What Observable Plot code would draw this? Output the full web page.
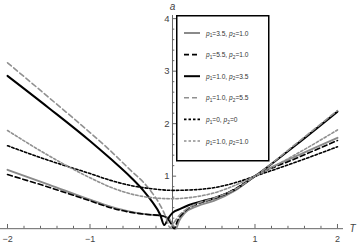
<!DOCTYPE html>
<html><head><meta charset="utf-8">
<script src="https://cdn.jsdelivr.net/npm/d3@7"></script>
<script src="https://cdn.jsdelivr.net/npm/@observablehq/plot@0.6"></script>
<style>
body{margin:0;background:#fff;}
#wrap{position:relative;width:360px;height:243px;overflow:hidden;font-family:"Liberation Sans",Arial,sans-serif;}
#legend{position:absolute;left:176px;top:15px;}
</style></head><body><div id="wrap"><div id="chart"></div><div id="legend"></div></div>
<script>
// ---- data ----
const seriesNames = ["p1=3.5, p2=1.0","p1=5.5, p2=1.0","p1=1.0, p2=3.5","p1=1.0, p2=5.5","p1=0, p2=0","p1=1.0, p2=1.0"];
const legendP1 = ["3.5","5.5","1.0","1.0","0","1.0"];
const legendP2 = ["1.0","1.0","3.5","5.5","0","1.0"];

const s1T = [-2,-1.5,-1,-0.75,-0.5,-0.3,-0.15,-0.05,0.0,0.04,0.08,0.15,0.3,0.5,0.75,1,1.5,2];
const s1A = [1.12,0.84,0.55,0.42,0.32,0.27,0.25,0.2,0.08,0.0,0.15,0.3,0.43,0.53,0.72,1.0,1.38,1.73];

const s2T = [-2,-1.5,-1,-0.75,-0.5,-0.3,-0.15,-0.08,-0.02,0.02,0.06,0.15,0.3,0.5,0.75,1,1.5,2];
const s2A = [1.03,0.79,0.53,0.4,0.31,0.27,0.25,0.22,0.1,0.0,0.15,0.33,0.47,0.57,0.75,1.0,1.34,1.68];

const s3T = [-2,-1.5,-1,-0.75,-0.5,-0.35,-0.25,-0.15,-0.1,-0.05,0,0.1,0.2,0.35,0.5,0.75,1,1.5,2];
const s3A = [2.91,2.3,1.67,1.33,0.97,0.72,0.52,0.27,0.07,0.2,0.3,0.38,0.45,0.52,0.58,0.74,1.0,1.6,2.23];

const s4T = [-2,-1.5,-1,-0.75,-0.5,-0.35,-0.25,-0.15,-0.08,-0.03,0.02,0.08,0.15,0.3,0.5,0.75,1,1.5,2];
const s4A = [3.16,2.5,1.83,1.48,1.1,0.88,0.69,0.45,0.22,0.02,0.12,0.25,0.35,0.48,0.58,0.74,1.0,1.62,2.25];

const s5T = [-2,-1.5,-1,-0.75,-0.5,-0.25,0,0.25,0.5,0.75,1,1.5,2];
const s5A = [1.58,1.3,1.05,0.92,0.82,0.76,0.73,0.74,0.78,0.87,1.0,1.27,1.56];

const s6T = [-2,-1.5,-1,-0.75,-0.5,-0.25,0,0.25,0.5,0.75,1,1.5,2];
const s6A = [1.87,1.39,0.97,0.79,0.66,0.59,0.57,0.6,0.68,0.82,1.0,1.42,1.88];

const xTickLabels = [-2,-1,1,2];
const yTickLabels = [1,2,3,4];

// ---- styles ----
const styles = [
  {stroke:"#8a8a8a", w:2, dash:null},
  {stroke:"#000", w:1.6, dash:"5,3"},
  {stroke:"#000", w:2, dash:null},
  {stroke:"#909090", w:1.6, dash:"5,3"},
  {stroke:"#000", w:1.6, dash:"2.5,2"},
  {stroke:"#909090", w:1.6, dash:"2.5,2"}
];
const allT = [s1T,s2T,s3T,s4T,s5T,s6T];
const allA = [s1A,s2A,s3A,s4A,s5A,s6A];
const series = allT.map((ts,k)=>ts.map((t,i)=>({T:t, a:allA[k][i]})));

const minorX = d3.range(-20,21,2).map(d=>d/10).filter(d=>!xTickLabels.includes(d) && d!==0);
const minorY = d3.range(2,41,2).map(d=>d/10).filter(d=>!yTickLabels.includes(d));

const lineMarks = series.map((data,k)=>Plot.line(data,{x:"T",y:"a",stroke:styles[k].stroke,strokeWidth:styles[k].w,strokeDasharray:styles[k].dash,curve:"monotone-x"}));

const axisCol = "#666";
const chart = Plot.plot({
  width:360, height:243,
  marginLeft:0, marginRight:17, marginTop:15, marginBottom:8,
  x:{domain:[-2.085,2.073], axis:null},
  y:{domain:[-0.13,4.06], axis:null},
  style:{background:"#fff", fontFamily:"'Liberation Sans', Arial, sans-serif"},
  marks:[
    Plot.ruleY([0],{stroke:axisCol,strokeWidth:1}),
    Plot.ruleX([0],{y1:0,y2:4.06,stroke:axisCol,strokeWidth:1}),
    Plot.ruleX(xTickLabels,{x:d=>d,y1:0,y2:0.08,stroke:axisCol}),
    Plot.ruleX(minorX,{x:d=>d,y1:0,y2:0.045,stroke:axisCol}),
    Plot.ruleY(yTickLabels,{y:d=>d,x1:0,x2:0.05,stroke:axisCol}),
    Plot.ruleY(minorY,{y:d=>d,x1:0,x2:0.028,stroke:axisCol}),
    ...lineMarks,
    Plot.text(xTickLabels,{x:d=>d,y:0,text:d=>String(d).replace("-","\u2212"),dy:10,fontSize:9,fill:"#444"}),
    Plot.text(yTickLabels,{x:0,y:d=>d,text:d=>String(d),dx:-3,textAnchor:"end",fontSize:9.5,fill:"#444"}),
    Plot.text(["a"],{x:0,y:4.06,text:d=>d,dy:-9,fontSize:10,fontStyle:"italic",fill:"#444"}),
    Plot.text(["T"],{x:2.073,y:0,text:d=>d,dx:9,fontSize:10,fontStyle:"italic",fill:"#444"})
  ]
});
document.getElementById("chart").appendChild(chart);

// ---- legend ----
const lg = d3.select("#legend").append("svg").attr("width",94).attr("height",147);
lg.append("rect").attr("x",0.75).attr("y",0.75).attr("width",92).attr("height",145).attr("fill","#fff").attr("stroke","#000").attr("stroke-width",1.5);
seriesNames.forEach((name,k)=>{
  const yy = 18 + k*21.6;
  lg.append("line").attr("x1",8).attr("x2",24).attr("y1",yy).attr("y2",yy)
    .attr("stroke",styles[k].stroke).attr("stroke-width",styles[k].w)
    .attr("stroke-dasharray",styles[k].dash);
  const t = lg.append("text").attr("x",30).attr("y",yy+2.5).attr("font-size",6.6).attr("fill","#333")
    .attr("font-family","'Liberation Sans', Arial, sans-serif");
  t.append("tspan").attr("font-style","italic").text("p");
  t.append("tspan").attr("font-size",4.8).attr("dy",1.6).text("1");
  t.append("tspan").attr("dy",-1.6).text("=" + legendP1[k] + ", ");
  t.append("tspan").attr("font-style","italic").text("p");
  t.append("tspan").attr("font-size",4.8).attr("dy",1.6).text("2");
  t.append("tspan").attr("dy",-1.6).text("=" + legendP2[k]);
});
</script></body></html>
